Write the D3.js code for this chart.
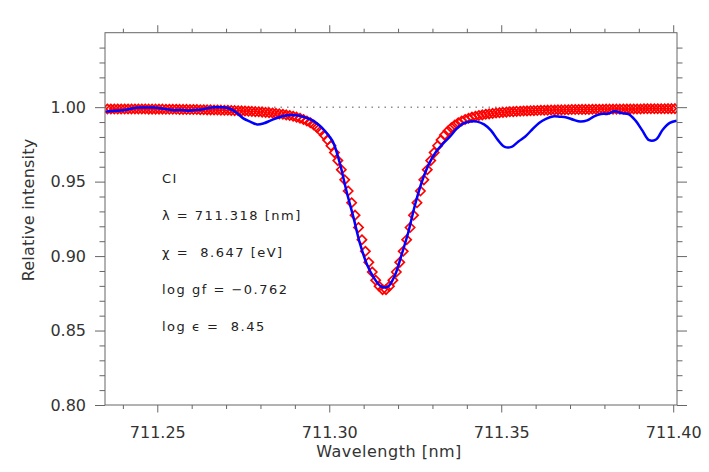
<!DOCTYPE html>
<html>
<head>
<meta charset="utf-8">
<script src="https://cdn.jsdelivr.net/npm/d3@7"></script>
<style>
  body { margin: 0; background: #fff; }
  svg { display: block; font-family: "DejaVu Sans", sans-serif; }
</style>
</head>
<body>
<div id="chart"></div>
<script>
// Achsen
const xMajor = [711.25, 711.30, 711.35, 711.40];
const yMajor = [0.80, 0.85, 0.90, 0.95, 1.00];
const xDomain = [711.2348, 711.4011];
const yDomain = [0.80, 1.05];

// Modell (rote Rauten), Gitter 0.001 nm ab 711.2355
const modelStart = 711.2355;
const modelStep = 0.001;
const modelIntensity = [
  0.9988, 0.9988, 0.9988, 0.9988, 0.9988, 0.9988, 0.9988, 0.9988, 0.9988, 0.9988,
  0.9988, 0.9988, 0.9987, 0.9987, 0.9987, 0.9987, 0.9987, 0.9986, 0.9986, 0.9986,
  0.9986, 0.9985, 0.9985, 0.9985, 0.9984, 0.9984, 0.9984, 0.9983, 0.9983, 0.9982,
  0.9982, 0.9981, 0.9981, 0.9980, 0.9979, 0.9979, 0.9978, 0.9977, 0.9976, 0.9975,
  0.9974, 0.9973, 0.9972, 0.9970, 0.9969, 0.9967, 0.9965, 0.9963, 0.9961, 0.9958,
  0.9955, 0.9952, 0.9948, 0.9944, 0.9939, 0.9933, 0.9926, 0.9917, 0.9907, 0.9895,
  0.9880, 0.9862, 0.9840, 0.9813, 0.9780, 0.9741, 0.9695, 0.9641, 0.9580, 0.9512,
  0.9437, 0.9358, 0.9275, 0.9192, 0.9110, 0.9032, 0.8958, 0.8893, 0.8838, 0.8798,
  0.8775,
  0.8775, 0.8798, 0.8838, 0.8893, 0.8958, 0.9032, 0.9110, 0.9192, 0.9275, 0.9358,
  0.9437, 0.9512, 0.9580, 0.9641, 0.9695, 0.9741, 0.9780, 0.9813, 0.9840, 0.9862,
  0.9880, 0.9895, 0.9907, 0.9917, 0.9926, 0.9933, 0.9939, 0.9944, 0.9948, 0.9952,
  0.9955, 0.9958, 0.9961, 0.9963, 0.9965, 0.9967, 0.9969, 0.9970, 0.9972, 0.9973,
  0.9974, 0.9975, 0.9976, 0.9977, 0.9978, 0.9979, 0.9979, 0.9980, 0.9981, 0.9981,
  0.9982, 0.9982, 0.9983, 0.9983, 0.9984, 0.9984, 0.9984, 0.9985, 0.9985, 0.9985,
  0.9986, 0.9986, 0.9986, 0.9986, 0.9987, 0.9987, 0.9987, 0.9987, 0.9987, 0.9988,
  0.9988, 0.9988, 0.9988, 0.9988, 0.9988, 0.9989, 0.9989, 0.9989, 0.9989, 0.9989,
  0.9989, 0.9989, 0.9990, 0.9990, 0.9990
];

// Beobachtung (blaue Linie), Gitter 0.002 nm ab 711.235
const obsStart = 711.235;
const obsStep = 0.002;
const obsIntensity = [
  0.9970, 0.9974, 0.9977, 0.9983, 0.9993, 0.9997, 0.9997, 0.9997, 0.9992, 0.9985,
  0.9980, 0.9981, 0.9976, 0.9981, 0.9985, 0.9995, 0.9999, 0.9999, 0.9991, 0.9964,
  0.9925, 0.9903, 0.9884, 0.9892, 0.9911, 0.9929, 0.9942, 0.9948, 0.9944, 0.9931,
  0.9913, 0.9880, 0.9833, 0.9770, 0.9630, 0.9437, 0.9263, 0.9078, 0.8942, 0.8853,
  0.8797, 0.8794, 0.8866, 0.9007, 0.9162, 0.9350, 0.9504, 0.9619, 0.9699, 0.9753,
  0.9800, 0.9854, 0.9891, 0.9904, 0.9903, 0.9884, 0.9844, 0.9780, 0.9733, 0.9733,
  0.9770, 0.9803, 0.9850, 0.9894, 0.9922, 0.9938, 0.9936, 0.9931, 0.9915, 0.9903,
  0.9911, 0.9938, 0.9954, 0.9956, 0.9972, 0.9960, 0.9953, 0.9911, 0.9844, 0.9778,
  0.9783, 0.9850, 0.9894, 0.9909
];

// Linienangaben
const labelLines = [
  "CI",
  "\u03bb = 711.318 [nm]",
  "\u03c7 =  8.647 [eV]",
  "log gf = \u22120.762",
  "log \u03f5 =  8.45"
];

const breite = 709;
const hoehe = 472;
const rand = { left: 105, right: 677, top: 32.7, bottom: 405 };
const axisColor = "#666";
const textColor = "#333";

function createChart() {
  const svg = d3.select("#chart").append("svg")
    .attr("width", breite)
    .attr("height", hoehe);

  const x = d3.scaleLinear().domain(xDomain).range([rand.left, rand.right]);
  const y = d3.scaleLinear().domain(yDomain).range([rand.bottom, rand.top]);

  svg.append("clipPath").attr("id", "plotClip")
    .append("rect")
    .attr("x", rand.left).attr("y", rand.top)
    .attr("width", rand.right - rand.left)
    .attr("height", rand.bottom - rand.top);

  // gepunktete Kontinuumslinie
  svg.append("line")
    .attr("x1", rand.left).attr("x2", rand.right)
    .attr("y1", y(1)).attr("y2", y(1))
    .attr("stroke", "#555")
    .attr("stroke-width", 1)
    .attr("stroke-dasharray", "1.5,5");

  const plot = svg.append("g").attr("clip-path", "url(#plotClip)");

  const model = modelIntensity.map((v, i) => ({ wl: modelStart + i * modelStep, v }));
  const obs = obsIntensity.map((v, i) => ({ wl: obsStart + i * obsStep, v }));

  const r = 4.6;
  plot.selectAll(".raute")
    .data(model)
    .enter()
    .append("path")
    .attr("class", "raute")
    .attr("d", `M0,${-r}L${r},0L0,${r}L${-r},0Z`)
    .attr("transform", d => `translate(${x(d.wl)},${y(d.v)})`)
    .attr("fill", "none")
    .attr("stroke", "#ff0000")
    .attr("stroke-width", 1.7);

  const line = d3.line()
    .x(d => x(d.wl))
    .y(d => y(d.v))
    .curve(d3.curveCatmullRom);

  plot.append("path")
    .datum(obs)
    .attr("d", line)
    .attr("fill", "none")
    .attr("stroke", "#0000ff")
    .attr("stroke-width", 2.5);

  // Rahmen + Achsen
  const xMinor = d3.range(711.24, 711.405, 0.01).filter(v => !xMajor.some(m => Math.abs(m - v) < 1e-6));
  const yMinor = d3.range(0.81, 1.045, 0.01).filter(v => !yMajor.some(m => Math.abs(m - v) < 1e-6));

  const axes = [
    { fn: d3.axisBottom, pos: `translate(0,${rand.bottom})`, major: 7.5, minor: 4, labels: true, scale: x, maj: xMajor, min: xMinor },
    { fn: d3.axisTop, pos: `translate(0,${rand.top})`, major: 7.5, minor: 4, labels: false, scale: x, maj: xMajor, min: xMinor },
    { fn: d3.axisLeft, pos: `translate(${rand.left},0)`, major: 10, minor: 5.5, labels: true, scale: y, maj: yMajor, min: yMinor },
    { fn: d3.axisRight, pos: `translate(${rand.right},0)`, major: 10, minor: 5.5, labels: false, scale: y, maj: yMajor, min: yMinor }
  ];

  axes.forEach(a => {
    const gMaj = svg.append("g").attr("transform", a.pos)
      .call(a.fn(a.scale).tickValues(a.maj).tickSize(a.major)
        .tickPadding(a.fn === d3.axisBottom ? 14 : 9)
        .tickFormat(a.labels ? d3.format(".2f") : ""));
    const gMin = svg.append("g").attr("transform", a.pos)
      .call(a.fn(a.scale).tickValues(a.min).tickSize(a.minor).tickFormat(""));
    [gMaj, gMin].forEach(g => {
      g.select(".domain").remove();
      g.selectAll("line").attr("stroke", axisColor).attr("stroke-width", 1);
      g.selectAll("text")
        .attr("fill", textColor)
        .style("font-size", "16px")
        .style("font-family", "'DejaVu Sans', sans-serif");
    });
  });

  svg.append("rect")
    .attr("x", rand.left).attr("y", rand.top)
    .attr("width", rand.right - rand.left)
    .attr("height", rand.bottom - rand.top)
    .attr("fill", "none")
    .attr("stroke", axisColor)
    .attr("stroke-width", 1);

  // Achsentitel
  svg.append("text")
    .attr("x", (rand.left + rand.right) / 2 - 2)
    .attr("y", 457)
    .attr("text-anchor", "middle")
    .attr("fill", textColor)
    .style("font-size", "16px")
    .style("letter-spacing", "0.5px")
    .text("Wavelength [nm]");

  svg.append("text")
    .attr("transform", "translate(34,210) rotate(-90)")
    .attr("text-anchor", "middle")
    .attr("fill", textColor)
    .style("font-size", "16px")
    .style("letter-spacing", "0.2px")
    .text("Relative intensity");

  // Text im Diagramm
  svg.selectAll(".info")
    .data(labelLines)
    .enter()
    .append("text")
    .attr("class", "info")
    .attr("x", 162)
    .attr("y", (d, i) => 182.5 + i * 37)
    .attr("fill", "#222")
    .style("font-size", "13px")
    .style("letter-spacing", "1.5px")
    .style("white-space", "pre")
    .text(d => d);
}

createChart();
</script>
</body>
</html>
